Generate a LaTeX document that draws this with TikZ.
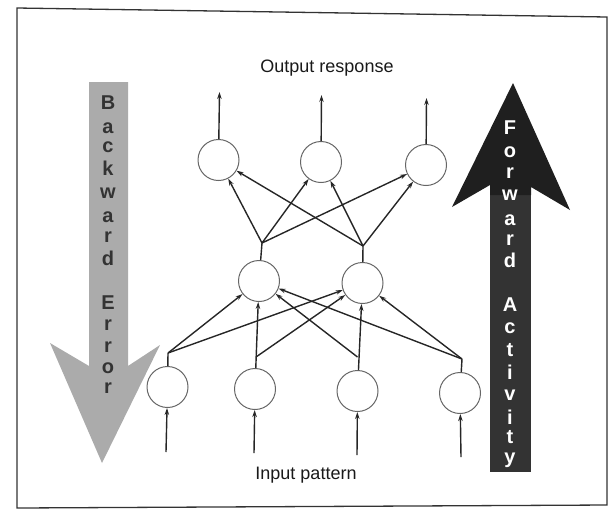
\documentclass[tikz,border=0pt]{standalone}
\usepackage{fontspec}
\setmainfont{Liberation Sans}
\usetikzlibrary{arrows.meta}
\begin{document}
\begin{tikzpicture}[x=1pt,y=-1pt,
  neuron/.style={circle, draw=black!60, line width=1pt, minimum size=41pt, inner sep=0pt, fill=white},
  link/.style={draw=black!85, line width=1.4pt, -{Stealth[length=7pt,width=4.5pt]}},
  stem/.style={draw=black!85, line width=1.4pt},
  lbl/.style={font=\fontsize{18}{20}\selectfont, text=black!90, inner sep=0pt},
  bkletter/.style={font=\bfseries\fontsize{20}{22}\selectfont, text=black!80, inner sep=0pt},
  fwletter/.style={font=\bfseries\fontsize{20}{22}\selectfont, text=white, inner sep=0pt}]
\useasboundingbox (0,0) rectangle (612,520);
% frame
\draw[black!80, line width=1.3pt] (17,8) -- (607,17) -- (607,505) -- (17,508) -- cycle;
% backward error arrow
\fill[black!33] (89,82) -- (128,82) -- (128,366) -- (160,345) -- (102,463) -- (50,343) -- (89,366) -- cycle;
% forward activity arrow
\fill[black!80] (490,190) -- (531,190) -- (531,472) -- (490,472) -- cycle;
\fill[black!88] (513,83) -- (570,210) -- (531,187) -- (531,195) -- (490,195) -- (490,185) -- (452,207) -- cycle;
% letters backward
\foreach \c/\y [count=\i] in {B/103,a/128,c/147,k/168,w/193,a/217,r/237,d/258,E/303,r/325,r/347,o/368,r/388}
  \node[bkletter] (bk\i) at (108,\y) {\c};
% letters forward
\foreach \c/\y [count=\i] in {F/128,o/152,r/173,w/195,a/220,r/240,d/260,A/305,c/328,t/350,i/372,v/395,i/417,t/437,y/460}
  \node[fwletter] (fw\i) at (510,\y) {\c};
% labels
\node[lbl] (outlbl) at (327,68) {Output response};
\node[lbl] (inlbl) at (306,475) {Input pattern};
% neurons
\node[neuron] (o1) at (218.5,160) {};
\node[neuron] (o2) at (321,162) {};
\node[neuron] (o3) at (426,165) {};
\node[neuron] (h1) at (259,281) {};
\node[neuron] (h2) at (362.5,283) {};
\node[neuron] (i1) at (167.5,387) {};
\node[neuron] (i2) at (255,389) {};
\node[neuron] (i3) at (357.5,391) {};
\node[neuron] (i4) at (460,393) {};
% helper coordinates
\coordinate (ot1) at (219.5,92);
\coordinate (ot2) at (321.5,95);
\coordinate (ot3) at (426.5,98);
\coordinate (c1) at (262,243);
\coordinate (c2) at (363,246);
\coordinate (b1) at (168,353);
\coordinate (b2) at (256,357);
\coordinate (b3) at (357.5,357);
\coordinate (b4) at (462,359);
\coordinate (ib1) at (166,452);
\coordinate (ib2) at (254,453);
\coordinate (ib3) at (357,455);
\coordinate (ib4) at (461,457);
% outputs
\draw[link] (o1) -- (ot1);
\draw[link] (o2) -- (ot2);
\draw[link] (o3) -- (ot3);
% hidden -> output
\draw[stem] (h1) -- (c1);
\draw[stem] (h2) -- (c2);
\foreach \o in {o1,o2,o3} {
  \draw[link] (c1) -- (\o);
  \draw[link] (c2) -- (\o);
}
% input -> hidden
\draw[stem] (i1) -- (b1);
\draw[stem] (i4) -- (b4);
\draw[link] (b1) -- (h1);
\draw[link] (b1) -- (h2);
\draw[link] (b4) -- (h1);
\draw[link] (b4) -- (h2);
\draw[link] (i2) -- (h1);
\draw[link] (b2) -- (h2);
\draw[link] (i3) -- (h2);
\draw[link] (b3) -- (h1);
% inputs
\draw[link] (ib1) -- (i1);
\draw[link] (ib2) -- (i2);
\draw[link] (ib3) -- (i3);
\draw[link] (ib4) -- (i4);
\end{tikzpicture}
\end{document}
